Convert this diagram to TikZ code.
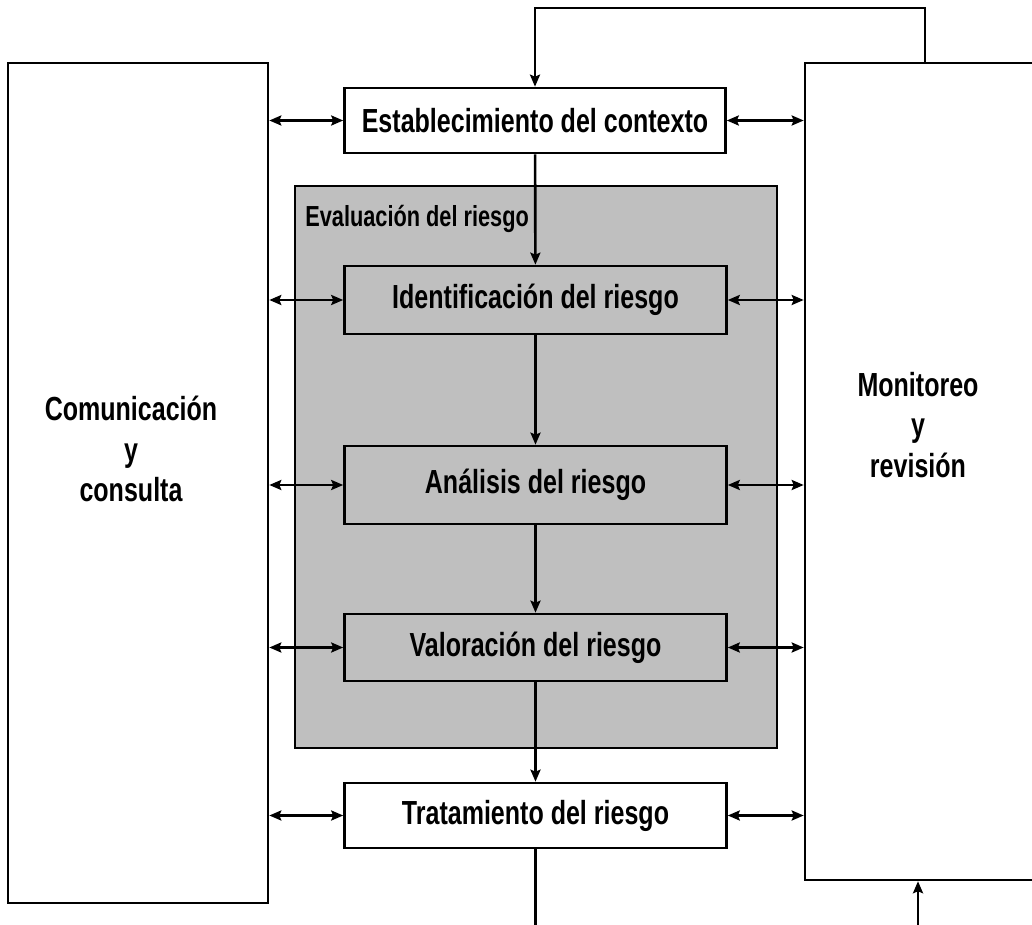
\documentclass[tikz,border=0pt]{standalone}
\usepackage{fontspec}
\setmainfont[FakeStretch=0.75]{Liberation Sans}
\usetikzlibrary{positioning, arrows.meta, calc}
\tikzset{
	every edge/.style={
		draw, <->, line width=1.6pt
	}
}

\begin{document}
\begin{tikzpicture}[x=0.02cm, y=-0.02cm, >={Stealth[length=0.24cm,width=0.2cm,inset=0.04cm]},
	proc/.style={draw, line width=1.5pt, minimum width=7.64cm, minimum height=1.34cm, font=\fontsize{19}{22}\selectfont\bfseries},
	side/.style={draw, line width=1.5pt, fill=white},
	flow/.style={->, line width=1.5pt}]
	\useasboundingbox (0,0) rectangle (1032,925);
	\clip (0,0) rectangle (1032,925);
	% columnas laterales
	\node[side, minimum width=5.2cm, minimum height=16.8cm] (com) at (138,483) {};
	\node[side, minimum width=5.9cm, minimum height=16.34cm] (mon) at (952.5,471.5) {};
	\node[align=center, font=\fontsize{19}{23}\selectfont\bfseries] (comtxt) at (131,449) {Comunicación\\y\\consulta};
	\node[align=center, font=\fontsize{19}{23}\selectfont\bfseries] (montxt) at (918,425) {Monitoreo\\y\\revisión};
	% bloque gris
	\node[draw, line width=1.5pt, fill=black!25, minimum width=9.64cm, minimum height=11.24cm] (eval) at (536,467) {};
	\node[anchor=north west, inner sep=0pt, font=\fontsize{16.5}{18}\selectfont\bfseries] (evallbl) at (305,205) {Evaluación del riesgo};
	% procesos
	\node[proc, fill=white, minimum width=7.62cm, minimum height=1.3cm] (estab) at (535,120.5) {Establecimiento del contexto};
	\node[proc, fill=black!25, minimum height=1.36cm] (ident) at (535.5,300) {Identificación del riesgo};
	\node[proc, fill=black!25, minimum height=1.56cm] (anal) at (535.5,485) {Análisis del riesgo};
	\node[proc, fill=black!25] (valor) at (535.5,647.5) {Valoración del riesgo};
	\node[proc, fill=white, minimum height=1.3cm] (trat) at (535.5,815.5) {Tratamiento del riesgo};
	\coordinate (fb) at (925,8);
	\coordinate (out) at (535.5,925);
	\coordinate (in) at (918,925);
	% flujo vertical
	\draw[flow] (estab) -- (ident);
	\draw[flow] (ident) -- (anal);
	\draw[flow] (anal) -- (valor);
	\draw[flow] (valor) -- (trat);
	\draw[line width=1.5pt] (trat) -- (out);
	\draw[flow] (mon.north -| fb) -- (fb) -| (estab.north);
	\draw[flow] (in) -- (mon.south -| in);
	% comunicacion y monitoreo
	\foreach \n in {estab, ident, anal, valor, trat} {
		\draw (com.east |- \n) edge (\n.west);
		\draw (\n.east) edge (mon.west |- \n);
	}
\end{tikzpicture}
\end{document}
